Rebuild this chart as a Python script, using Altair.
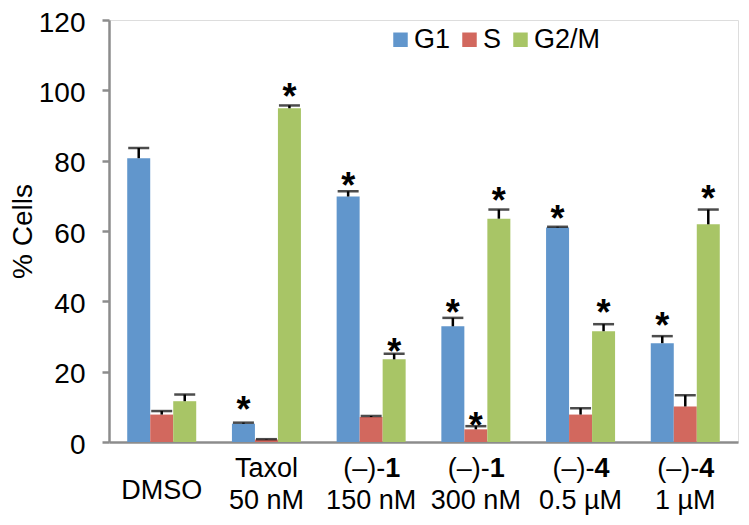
import altair as alt
import pandas as pd

# ---- data ----
categories = ["DMSO", "Taxol 50 nM", "(–)-1 150 nM", "(–)-1 300 nM", "(–)-4 0.5 µM", "(–)-4 1 µM"]
phases = ["G1", "S", "G2/M"]
colors = ["#6196CC", "#D2685E", "#A8C566"]

g1 = [80.7, 5.2, 69.8, 32.9, 61.0, 28.1]
s = [7.8, 0.7, 7.1, 3.6, 7.8, 10.1]
g2m = [11.6, 94.9, 23.5, 63.5, 31.5, 61.9]

g1_err = [2.9, 0.3, 1.5, 2.4, 0.2, 2.0]
s_err = [1.0, 0.1, 0.3, 0.9, 1.8, 3.2]
g2m_err = [1.9, 0.8, 1.6, 2.6, 2.0, 4.2]

# asterisk centre positions (in % units); None = not significant
g1_star = [None, 11.6, 75.4, 39.1, 65.9, 35.5]
s_star = [None, None, None, 7.2, None, None]
g2m_star = [None, 100.7, 28.2, 71.1, 39.1, 71.8]

# tick labels
single_line = ["DMSO", "", "", "", "", ""]
line1_plain = ["", "Taxol", "", "", "", ""]
line1_prefix = ["", "", "(–)-", "(–)-", "(–)-", "(–)-"]
line1_bold = ["", "", "1", "1", "4", "4"]
line2 = ["", "50 nM", "150 nM", "300 nM", "0.5 µM", "1 µM"]

FONT = "Liberation Sans"
W, H = 629, 422

rows = []
for ph, vals, errs, stars in [("G1", g1, g1_err, g1_star), ("S", s, s_err, s_star), ("G2/M", g2m, g2m_err, g2m_star)]:
    for c, v, e, st in zip(categories, vals, errs, stars):
        rows.append({"cat": c, "phase": ph, "value": v, "top": v + e, "star": st})
df = pd.DataFrame(rows)
stars_df = df.dropna(subset=["star"]).copy()
stars_df["txt"] = "*"

lab = pd.DataFrame({"cat": categories, "single": single_line, "l1": line1_plain,
                    "pre": line1_prefix, "bold": line1_bold, "l2": line2})

xscale = alt.Scale(domain=categories, paddingInner=0.341, paddingOuter=0.174, round=False)
x = alt.X("cat:N", sort=categories, scale=xscale,
          axis=alt.Axis(labels=False, ticks=False, title=None, domainColor="#8C8C8C", domainWidth=2.5))
xoff = alt.XOffset("phase:N", sort=phases, scale=alt.Scale(domain=phases, paddingInner=0, paddingOuter=0))
y = alt.Y("value:Q", scale=alt.Scale(domain=[0, 120]),
          axis=alt.Axis(values=[0, 20, 40, 60, 80, 100, 120], grid=False, tickSize=7, tickWidth=2.5,
                        tickColor="#8C8C8C", domainColor="#8C8C8C", domainWidth=2.5,
                        labelFontSize=28, labelFont=FONT, labelColor="black", labelPadding=17,
                        labelOffset=3,
                        title="% Cells", titleFont=FONT, titleFontSize=28, titleFontWeight="normal",
                        titleColor="black", titleX=-86, titleY=211, titleAngle=270,
                        titleAlign="center", titleBaseline="middle"))

bars = alt.Chart(df).mark_bar().encode(
    x=x, xOffset=xoff, y=y,
    color=alt.Color("phase:N", sort=phases, scale=alt.Scale(domain=phases, range=colors),
                    legend=alt.Legend(orient="none", legendX=278, legendY=6, direction="horizontal",
                                      title=None, symbolType="square", symbolSize=210,
                                      symbolStrokeWidth=0, symbolOpacity=1, labelFontSize=27,
                                      labelFont=FONT, labelColor="black", labelOffset=0,
                                      columnPadding=5, padding=0)),
)

rules = alt.Chart(df).mark_rule(color="black", strokeWidth=2.5).encode(
    x=alt.X("cat:N", sort=categories), xOffset=xoff, y="value:Q", y2="top:Q")

caps = alt.Chart(df).mark_tick(color="black", thickness=2.5, size=21).encode(
    x=alt.X("cat:N", sort=categories), xOffset=xoff, y="top:Q")

stars = alt.Chart(stars_df).mark_text(font=FONT, fontSize=36, fontWeight="bold", color="black",
                                      baseline="alphabetic", dy=21).encode(
    x=alt.X("cat:N", sort=categories), xOffset=xoff, y="star:Q", text="txt:N")

xl = alt.X("cat:N", sort=categories)
t_single = alt.Chart(lab).mark_text(font=FONT, fontSize=27, color="black", baseline="alphabetic").encode(
    x=xl, y=alt.value(478.5), text="single:N")
t_l1 = alt.Chart(lab).mark_text(font=FONT, fontSize=27, color="black", baseline="alphabetic").encode(
    x=xl, y=alt.value(457), text="l1:N")
t_pre = alt.Chart(lab).mark_text(font=FONT, fontSize=27, color="black", baseline="alphabetic",
                                 align="right", dx=14).encode(
    x=xl, y=alt.value(457), text="pre:N")
t_bold = alt.Chart(lab).mark_text(font=FONT, fontSize=27, color="black", baseline="alphabetic",
                                  align="left", dx=14, fontWeight="bold").encode(
    x=xl, y=alt.value(457), text="bold:N")
t_l2 = alt.Chart(lab).mark_text(font=FONT, fontSize=27, color="black", baseline="alphabetic").encode(
    x=xl, y=alt.value(488.8), text="l2:N")

chart = alt.layer(bars, rules, caps, stars, t_single, t_l1, t_pre, t_bold, t_l2).properties(
    width=W, height=H,
    autosize=alt.AutoSizeParams(type="none"),
    padding={"left": 101, "top": 12, "right": 3, "bottom": 75},
).configure_view(stroke=None).configure(background="white")

chart.save("out.html", embed_options={"renderer": "svg", "actions": False})
